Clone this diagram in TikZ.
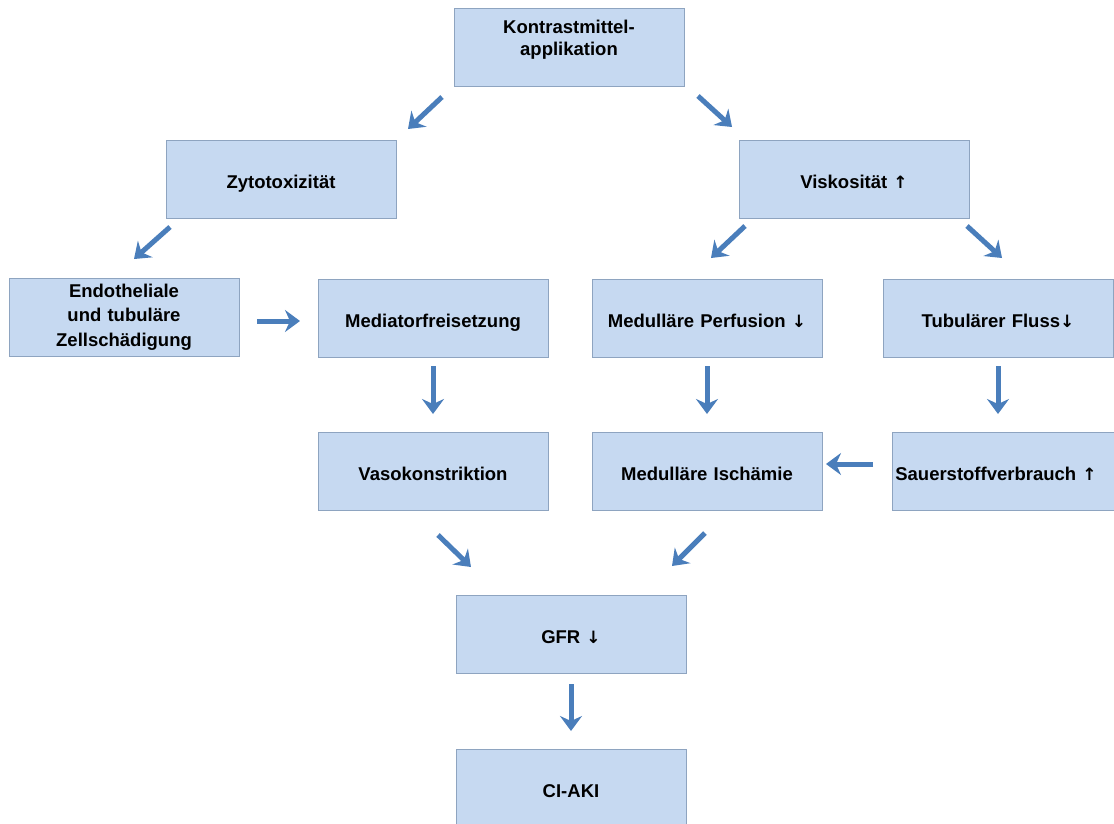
\documentclass[tikz,border=0pt]{standalone}
\usepackage{fontspec}
\setmainfont{Liberation Sans}
\newfontfamily\arrowfont{DejaVu Sans}
\usetikzlibrary{arrows.meta}
\definecolor{boxfill}{HTML}{C6D9F1}
\definecolor{boxline}{HTML}{8EA4C0}
\definecolor{arrowblue}{HTML}{4A7EBB}
\newcommand{\up}{{\arrowfont\bfseries\fontsize{17}{19}\selectfont ↑}}
\newcommand{\dn}{{\arrowfont\bfseries\fontsize{17}{19}\selectfont ↓}}
\tikzset{
  box/.style={draw=boxline, fill=boxfill, line width=1pt, minimum width=230pt,
    minimum height=78pt, inner sep=2pt, align=center, text width=226pt,
    font=\bfseries\fontsize{18.5}{22}\selectfont},
  onebox/.style={box, text height=20pt, text depth=2pt},
  flow/.style={draw=arrowblue, line width=5pt,
    -{Stealth[length=15pt, width=22pt, inset=5pt]}}
}
\begin{document}
\begin{tikzpicture}[x=1pt, y=-1pt]
\useasboundingbox (0,0) rectangle (1114,823);
\fill[white] (0,0) rectangle (1114,823);
\clip (0,0) rectangle (1114,823);
% boxes
\node[box] (km) at (569,47) {Kontrastmittel-\\applikation\\[-10pt]\strut};
\node[onebox] (zy) at (281,179) {Zytotoxizität};
\node[onebox] (vi) at (854,179) {Viskosität \up};
\node[box, font=\bfseries\fontsize{18.5}{24.5}\selectfont] (en) at (124,317) {Endotheliale\\und tubuläre\\Zellschädigung};
\node[onebox] (me) at (433,318) {Mediatorfreisetzung};
\node[onebox] (mp) at (707,318) {Medulläre Perfusion \dn};
\node[onebox] (tf) at (998,318) {Tubulärer Fluss\dn};
\node[onebox] (va) at (433,471) {Vasokonstriktion};
\node[onebox] (mi) at (707,471) {Medulläre Ischämie};
\node[onebox] (so) at (1007,471) {\hspace*{-22pt}Sauerstoffverbrauch \up};
\node[onebox] (gf) at (571,634) {GFR \dn};
\node[onebox] (ci) at (571,788) {CI-AKI};
% arrow end points
\coordinate (a1s) at (442,97);  \coordinate (a1e) at (408,129);
\coordinate (a2s) at (698,96);  \coordinate (a2e) at (732,127);
\coordinate (a3s) at (170,227); \coordinate (a3e) at (134,259);
\coordinate (a4s) at (745,226); \coordinate (a4e) at (711,258);
\coordinate (a5s) at (967,226); \coordinate (a5e) at (1002,258);
\coordinate (a6s) at (257,321); \coordinate (a6e) at (300,321);
\coordinate (a7s) at (433,366); \coordinate (a7e) at (433,414);
\coordinate (a8s) at (707,366); \coordinate (a8e) at (707,414);
\coordinate (a9s) at (998,366); \coordinate (a9e) at (998,414);
\coordinate (a10s) at (873,464); \coordinate (a10e) at (826,464);
\coordinate (a11s) at (438,535); \coordinate (a11e) at (471,567);
\coordinate (a12s) at (705,533); \coordinate (a12e) at (672,566);
\coordinate (a13s) at (571,684); \coordinate (a13e) at (571,731);
% arrows
\foreach \i in {1,...,13} \draw[flow] (a\i s) -- (a\i e);
\end{tikzpicture}
\end{document}
